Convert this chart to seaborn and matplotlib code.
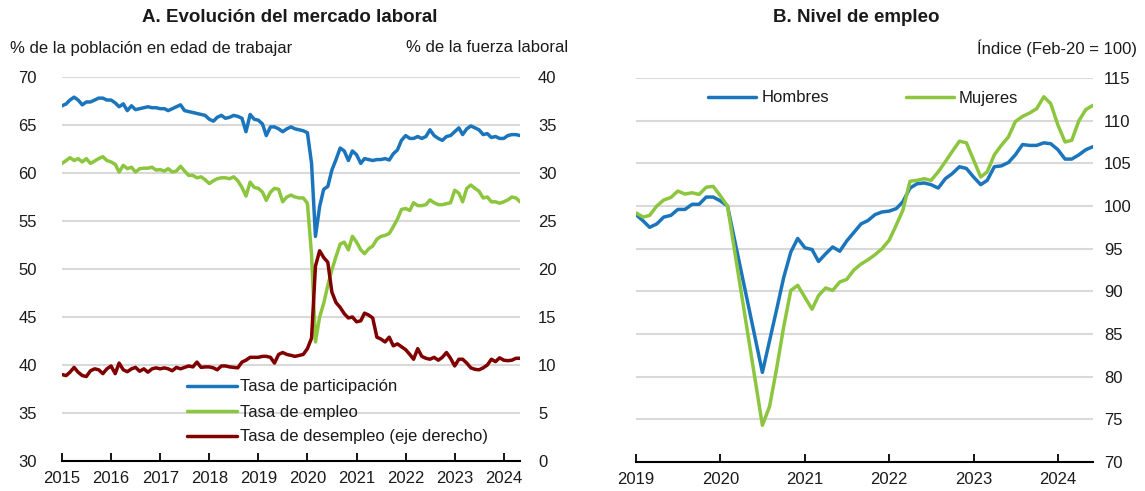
import numpy as np
import pandas as pd
import seaborn as sns
import matplotlib.pyplot as plt
import matplotlib.dates as mdates

# ---------------- data ----------------
# Panel A: monthly, Jan-2015 .. May-2024
fechas_a = pd.date_range("2015-01-01", "2024-05-01", freq="MS")
tasa_participacion = [
    67.0, 67.2, 67.6, 67.9, 67.6, 67.1, 67.4, 67.4, 67.6, 67.8,
    67.8, 67.6, 67.6, 67.3, 66.9, 67.2, 66.5, 67.0, 66.6, 66.7,
    66.8, 66.9, 66.8, 66.8, 66.7, 66.7, 66.5, 66.7, 66.9, 67.1,
    66.5, 66.4, 66.3, 66.2, 66.1, 66.0, 65.6, 65.4, 65.8, 66.0,
    65.7, 65.8, 66.0, 65.9, 65.7, 64.3, 66.1, 65.6, 65.5, 65.1,
    63.9, 64.8, 64.8, 64.6, 64.3, 64.6, 64.8, 64.6, 64.5, 64.4,
    64.2, 61.0, 53.4, 56.5, 58.3, 58.6, 60.3, 61.4, 62.6, 62.3,
    61.3, 62.3, 61.9, 61.0, 61.5, 61.4, 61.3, 61.4, 61.4, 61.5,
    61.35, 62.0, 62.4, 63.4, 63.9, 63.6, 63.6, 63.8, 63.6, 63.8,
    64.5, 63.9, 63.6, 63.4, 63.8, 63.9, 64.3, 64.7, 64.0, 64.6,
    64.9, 64.7, 64.5, 64.0, 64.1, 63.7, 63.8, 63.6, 63.6, 63.9,
    64.0, 64.0, 63.9]
tasa_empleo = [
    61.0, 61.3, 61.6, 61.3, 61.5, 61.15, 61.5, 61.0, 61.25, 61.5,
    61.7, 61.3, 61.15, 60.9, 60.1, 60.8, 60.45, 60.6, 60.1, 60.45,
    60.5, 60.5, 60.6, 60.3, 60.35, 60.2, 60.45, 60.1, 60.2, 60.7,
    60.2, 59.75, 59.75, 59.5, 59.6, 59.3, 58.9, 59.2, 59.4, 59.5,
    59.5, 59.4, 59.6, 59.2, 58.5, 57.6, 59.05, 58.5, 58.4, 58.0,
    57.15, 58.0, 58.4, 58.3, 57.0, 57.5, 57.7, 57.5, 57.4, 57.4,
    56.85, 51.5, 42.4, 45.0, 46.4, 48.3, 49.9, 51.3, 52.6, 52.8,
    52.0, 53.4, 52.8, 52.0, 51.6, 52.1, 52.4, 53.1, 53.4, 53.5,
    53.7, 54.4, 55.2, 56.2, 56.3, 56.1, 56.9, 56.6, 56.6, 56.7,
    57.2, 56.9, 56.7, 56.7, 56.8, 56.9, 58.2, 57.9, 57.0, 58.4,
    58.75, 58.4, 58.1, 57.4, 57.5, 57.0, 57.0, 56.85, 57.0, 57.2,
    57.5, 57.4, 57.0]
tasa_desempleo = [
    9.0, 8.9, 9.25, 9.75, 9.25, 8.9, 8.8, 9.4, 9.6, 9.5,
    9.1, 9.6, 9.9, 9.1, 10.2, 9.5, 9.3, 9.6, 9.75, 9.35,
    9.6, 9.25, 9.6, 9.7, 9.6, 9.7, 9.6, 9.4, 9.75, 9.6,
    9.75, 9.9, 9.8, 10.3, 9.75, 9.8, 9.8, 9.7, 9.5, 9.9,
    9.9, 9.8, 9.75, 9.7, 10.3, 10.5, 10.8, 10.8, 10.8, 10.9,
    10.9, 10.8, 10.2, 11.1, 11.3, 11.1, 11.0, 10.9, 11.0, 11.1,
    11.7, 12.8, 20.3, 21.9, 21.2, 20.7, 17.6, 16.5, 16.0, 15.35,
    14.9, 15.0, 14.5, 14.6, 15.4, 15.2, 14.9, 12.9, 12.7, 12.4,
    12.9, 12.0, 12.2, 11.9, 11.6, 11.1, 10.6, 11.7, 10.9, 10.7,
    10.6, 10.8, 10.5, 10.8, 11.3, 10.7, 9.9, 10.6, 10.6, 10.2,
    9.7, 9.55, 9.5, 9.7, 10.0, 10.6, 10.35, 10.75, 10.5, 10.45,
    10.5, 10.7, 10.7]

# Panel B: monthly, Jan-2019 .. Jun-2024 (Mar-Jun 2020 not available)
fechas_b = pd.date_range("2019-01-01", "2024-06-01", freq="MS")
nan = np.nan
hombres = [
    99.0, 98.25, 97.5, 97.9, 98.7, 98.9, 99.6, 99.6, 100.2, 100.2,
    101.05, 101.05, 100.6, 100.0, nan, nan, nan, nan, 80.5, 84.2,
    87.9, 91.6, 94.6, 96.2, 95.1, 94.9, 93.5, 94.4, 95.2, 94.7,
    95.9, 96.9, 97.9, 98.3, 99.0, 99.3, 99.4, 99.7, 100.5, 102.1,
    102.6, 102.7, 102.5, 102.1, 103.2, 103.8, 104.6, 104.4, 103.4, 102.5,
    103.0, 104.6, 104.7, 105.1, 106.0, 107.2, 107.1, 107.1, 107.4, 107.3,
    106.6, 105.5, 105.5, 106.0, 106.6, 106.95]
mujeres = [
    99.2, 98.7, 98.9, 100.0, 100.7, 101.0, 101.75, 101.4, 101.55, 101.35,
    102.2, 102.3, 101.2, 100.0, nan, nan, nan, nan, 74.3, 76.5,
    81.0, 85.8, 90.1, 90.7, 89.3, 87.9, 89.5, 90.4, 90.1, 91.1,
    91.4, 92.5, 93.2, 93.7, 94.3, 95.0, 96.0, 97.8, 99.5, 102.9,
    103.0, 103.2, 103.0, 104.0, 105.2, 106.4, 107.6, 107.4, 105.4, 103.4,
    104.0, 106.0, 107.1, 108.1, 109.9, 110.5, 110.9, 111.4, 112.8, 112.0,
    109.5, 107.5, 107.7, 110.0, 111.3, 111.8]

lab_part = "Tasa de participación"
lab_emp = "Tasa de empleo"
lab_des = "Tasa de desempleo (eje derecho)"

# ---------------- style ----------------
sns.set_theme(style="white")
plt.rcParams["font.family"] = ["Liberation Sans", "DejaVu Sans"]
BLUE = "#1b75bc"
GREEN = "#8cc63f"
RED = "#800000"
GRID = "#d9d9d9"
TXT = "#1a1a1a"
FS = 12
LW = 2.5

fig = plt.figure(figsize=(11.45, 4.91), dpi=100)
axA = fig.add_axes([62 / 1145, 1 - 461 / 491, 458 / 1145, 384 / 491])
axB = fig.add_axes([636 / 1145, 1 - 462 / 491, 457 / 1145, 384 / 491])

# ---------------- Panel A ----------------
dfA = pd.DataFrame({"fecha": fechas_a, "part": tasa_participacion,
                    "emp": tasa_empleo, "des": tasa_desempleo})
sns.lineplot(data=dfA, x="fecha", y="part", ax=axA, color=BLUE, lw=LW, label=lab_part)
sns.lineplot(data=dfA, x="fecha", y="emp", ax=axA, color=GREEN, lw=LW, label=lab_emp)
axR = axA.twinx()
sns.lineplot(data=dfA, x="fecha", y="des", ax=axR, color=RED, lw=LW, label=lab_des)

axA.set_ylim(30, 70)
axR.set_ylim(0, 40)
axA.set_yticks(range(30, 71, 5))
axR.set_yticks(range(0, 41, 5))
axA.set_xlim(fechas_a[0], fechas_a[-1])
axA.xaxis.set_major_locator(mdates.YearLocator())
axA.xaxis.set_major_formatter(mdates.DateFormatter("%Y"))
axA.grid(axis="y", color=GRID, lw=1.5)
axA.grid(axis="x", visible=False)
axR.grid(False)
axA.set_axisbelow(True)

for ax in (axA, axR):
    ax.set_xlabel("")
    ax.set_ylabel("")
    for s in ("left", "right", "top"):
        ax.spines[s].set_visible(False)
axR.spines["bottom"].set_visible(False)
axA.spines["bottom"].set_color("black")
axA.spines["bottom"].set_linewidth(1.5)
axA.tick_params(axis="x", direction="in", length=6, width=1.3, color="black",
                labelsize=FS, labelcolor=TXT, pad=7, bottom=True)
axA.tick_params(axis="y", length=0, labelsize=FS, labelcolor=TXT, pad=18)
axR.tick_params(axis="y", length=0, labelsize=FS, labelcolor=TXT, pad=13)

hA, lA = axA.get_legend_handles_labels()
hR, lR = axR.get_legend_handles_labels()
axA.get_legend().remove()
axR.get_legend().remove()
axR.legend(hA + hR, lA + lR, loc="center left", bbox_to_anchor=((187 - 62) / 458, (461 - 412) / 384),
           frameon=False, fontsize=FS, handlelength=3.0, handletextpad=0.2,
           labelspacing=0.6, borderpad=0, borderaxespad=0, labelcolor=TXT)

# ---------------- Panel B ----------------
dfB = pd.DataFrame({"fecha": fechas_b, "Hombres": hombres, "Mujeres": mujeres}).dropna()
sns.lineplot(data=dfB, x="fecha", y="Hombres", ax=axB, color=BLUE, lw=LW, label="Hombres")
sns.lineplot(data=dfB, x="fecha", y="Mujeres", ax=axB, color=GREEN, lw=LW, label="Mujeres")
axB.set_ylim(70, 115)
axB.set_yticks(range(70, 116, 5))
axB.set_xlim(fechas_b[0], fechas_b[-1])
axB.xaxis.set_major_locator(mdates.YearLocator())
axB.xaxis.set_major_formatter(mdates.DateFormatter("%Y"))
axB.yaxis.tick_right()
axB.grid(axis="y", color=GRID, lw=1.5)
axB.grid(axis="x", visible=False)
axB.set_axisbelow(True)
axB.set_xlabel("")
axB.set_ylabel("")
for s in ("left", "right", "top"):
    axB.spines[s].set_visible(False)
axB.spines["bottom"].set_color("black")
axB.spines["bottom"].set_linewidth(1.5)
axB.tick_params(axis="x", direction="in", length=6, width=1.3, color="black",
                labelsize=FS, labelcolor=TXT, pad=7, bottom=True)
axB.tick_params(axis="y", length=0, labelsize=FS, labelcolor=TXT, pad=8,
                left=False, right=False, labelleft=False, labelright=True)
axB.legend(loc="center left", bbox_to_anchor=((708 - 636) / 457, (462 - 98) / 384), ncol=2,
           frameon=False, fontsize=FS, handlelength=2.9, handletextpad=0.3,
           columnspacing=4.6, borderpad=0, borderaxespad=0, labelcolor=TXT)

# ---------------- titles / axis captions ----------------
fig.text(290 / 1145, 1 - 18 / 491, "A. Evolución del mercado laboral", ha="center", va="center",
         fontsize=13.5, fontweight="bold", color=TXT)
fig.text(856 / 1145, 1 - 18 / 491, "B. Nivel de empleo", ha="center", va="center",
         fontsize=13.5, fontweight="bold", color=TXT)
fig.text(10 / 1145, 1 - 48 / 491, "% de la población en edad de trabajar", ha="left", va="center",
         fontsize=FS, color=TXT)
fig.text(568 / 1145, 1 - 48 / 491, "% de la fuerza laboral", ha="right", va="center",
         fontsize=FS, color=TXT)
fig.text(1137 / 1145, 1 - 48 / 491, "Índice (Feb-20 = 100)", ha="right", va="center",
         fontsize=FS, color=TXT)

fig.savefig("out.png", dpi=100)
